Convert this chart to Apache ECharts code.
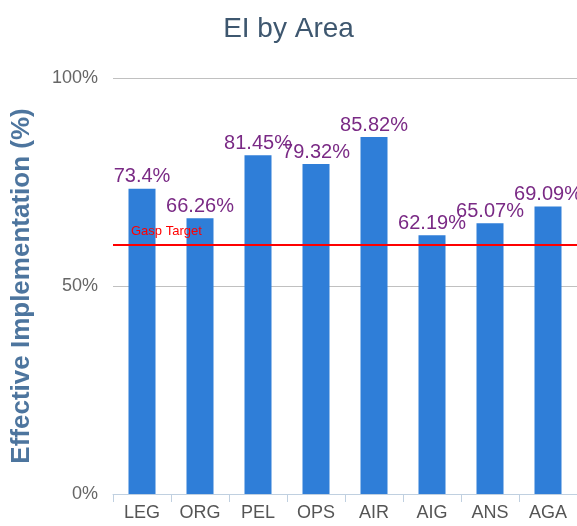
<!DOCTYPE html>
<html>
<head>
<meta charset="utf-8">
<script src="https://cdn.jsdelivr.net/npm/echarts@6/dist/echarts.min.js"></script>
<style>
  html, body { margin: 0; padding: 0; background: #fff; }
  #chart { width: 577px; height: 526px; }
</style>
</head>
<body>
<div id="chart"></div>
<script>
const areas = ['LEG', 'ORG', 'PEL', 'OPS', 'AIR', 'AIG', 'ANS', 'AGA'];
const eiValues = [73.4, 66.26, 81.45, 79.32, 85.82, 62.19, 65.07, 69.09];
const targetValue = 60;
const yTicks = [0, 50, 100];

const font = "'Liberation Sans', Arial, sans-serif";

let chart = echarts.init(document.getElementById('chart'));
let option = {
  animation: false,
  title: {
    text: 'EI by Area',
    left: 'center',
    top: 10,
    textStyle: {
      color: '#3e576f',
      fontFamily: font,
      fontWeight: 'normal',
      fontSize: 28,
    },
  },
  grid: {
    left: 113,
    right: 0,
    top: 78,
    bottom: 32,
  },
  xAxis: {
    type: 'category',
    data: areas,
    axisLine: { lineStyle: { color: '#c0d0e0' } },
    axisTick: { show: true, length: 8, lineStyle: { color: '#c0d0e0' } },
    axisLabel: {
      interval: 0,
      color: '#555',
      fontFamily: font,
      fontSize: 18,
      margin: 10,
    },
  },
  yAxis: {
    type: 'value',
    min: yTicks[0],
    max: yTicks[yTicks.length - 1],
    interval: 50,
    name: 'Effective Implementation (%)',
    nameLocation: 'middle',
    nameGap: 78,
    nameTextStyle: {
      color: '#4d759e',
      fontWeight: 'bold',
      fontSize: 26,
      fontFamily: font,
    },
    axisLine: { show: false },
    axisTick: { show: false },
    splitLine: { lineStyle: { color: '#c0c0c0' } },
    axisLabel: {
      formatter: '{value}%',
      color: '#666',
      fontFamily: font,
      fontSize: 18,
      margin: 15,
    },
  },
  series: [
    {
      type: 'bar',
      data: eiValues,
      barWidth: 27,
      itemStyle: { color: '#2f7ed8' },
      label: {
        show: true,
        position: 'top',
        distance: 2,
        formatter: '{c}%',
        color: '#7a2a85',
        fontFamily: font,
        fontSize: 20,
      },
      markLine: {
        silent: true,
        symbol: 'none',
        data: [{ yAxis: targetValue }],
        lineStyle: { color: '#ff0000', width: 2, type: 'solid' },
        label: {
          show: true,
          position: 'insideStartTop',
          formatter: 'Gasp Target',
          color: '#ff0000',
          fontFamily: font,
          fontSize: 13,
          distance: [18, 6],
        },
      },
    },
  ],
};
chart.setOption(option, true);
window.addEventListener('resize', function () {
  chart.resize();
});
</script>
</body>
</html>
